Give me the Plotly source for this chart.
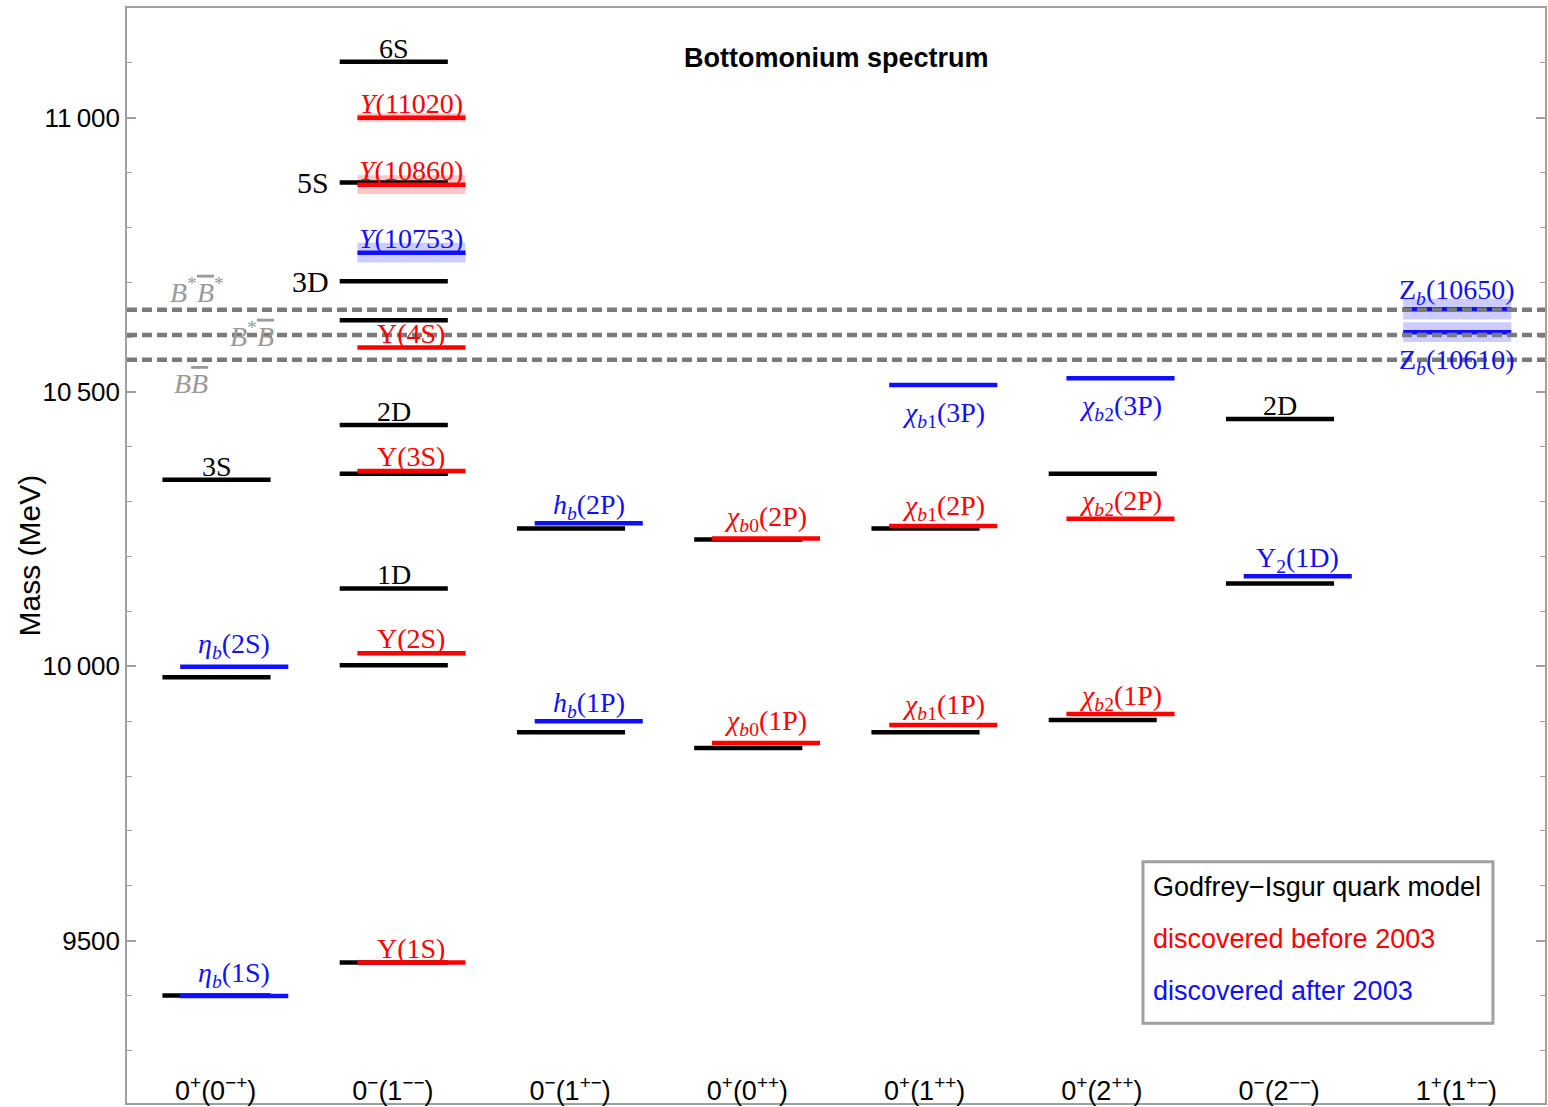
import plotly.graph_objects as go

# ---------------- data ----------------
columns = [
    "0<sup>+</sup>(0<sup>−+</sup>)", "0<sup>−</sup>(1<sup>−−</sup>)", "0<sup>−</sup>(1<sup>+−</sup>)",
    "0<sup>+</sup>(0<sup>++</sup>)", "0<sup>+</sup>(1<sup>++</sup>)", "0<sup>+</sup>(2<sup>++</sup>)",
    "0<sup>−</sup>(2<sup>−−</sup>)", "1<sup>+</sup>(1<sup>+−</sup>)",
]

# Godfrey-Isgur quark model levels
gi_col = [1, 1, 1, 2, 2, 2, 2, 2, 2, 2, 2, 2, 3, 3, 4, 4, 5, 5, 6, 6, 7, 7]
gi_mass = [10340, 9980, 9400, 11102, 10882, 10702, 10631, 10440, 10351, 10142, 10002, 9460,
           10251, 9880, 10231, 9851, 10251, 9880, 10351, 9902, 10451, 10151]
gi_name = ["3S", "", "", "6S", "5S", "3D", "", "2D", "", "1D", "", "",
           "", "", "", "", "", "", "", "", "2D", ""]
gi_place = ["above", "", "", "above", "left", "left", "", "above", "", "above", "", "",
            "", "", "", "", "", "", "", "", "above", ""]

# experimental states
exp_col = [1, 1, 2, 2, 2, 2, 2, 2, 2, 3, 3, 4, 4, 5, 5, 5, 6, 6, 6, 7, 8, 8]
exp_mass = [9999, 9399, 11000, 10878, 10754, 10581, 10356, 10024, 9460, 10261, 9900,
            10233, 9860, 10513, 10256, 9893, 10525, 10269, 9913, 10164, 10651, 10609]
exp_name = [
    "<i>η<sub>b</sub></i>(2S)", "<i>η<sub>b</sub></i>(1S)",
    "<i>Υ</i>(11020)", "<i>Υ</i>(10860)", "<i>Υ</i>(10753)", "Υ(4S)", "Υ(3S)", "Υ(2S)", "Υ(1S)",
    "<i>h<sub>b</sub></i>(2P)", "<i>h<sub>b</sub></i>(1P)",
    "<i>χ<sub>b</sub></i><sub>0</sub>(2P)", "<i>χ<sub>b</sub></i><sub>0</sub>(1P)",
    "<i>χ<sub>b</sub></i><sub>1</sub>(3P)", "<i>χ<sub>b</sub></i><sub>1</sub>(2P)", "<i>χ<sub>b</sub></i><sub>1</sub>(1P)",
    "<i>χ<sub>b</sub></i><sub>2</sub>(3P)", "<i>χ<sub>b</sub></i><sub>2</sub>(2P)", "<i>χ<sub>b</sub></i><sub>2</sub>(1P)",
    "Υ<sub>2</sub>(1D)", "Z<sub><i>b</i></sub>(10650)", "Z<sub><i>b</i></sub>(10610)",
]
exp_era = ["after", "after", "before", "before", "after", "before", "before", "before", "before",
           "after", "after", "before", "before", "after", "before", "before",
           "after", "before", "before", "after", "after", "after"]
exp_halfwidth = [0, 0, 8, 17, 18, 0, 0, 0, 0, 0, 0, 0, 0, 0, 0, 0, 0, 0, 0, 0, 19, 18]
exp_place = ["above", "above", "above", "above", "above", "above", "above", "above", "above",
             "above", "above", "above", "above", "below", "above", "above",
             "below", "above", "above", "above", "above", "below"]
exp_label_lift = [5, 5, 0, 0, 0, 0, 0, 0, 0, 0, 0, 3, 4, 0, 2, 2, 0, 0, 0, 0, 1, 0]

# open-bottom thresholds
thr_mass = [10650, 10604, 10559]
thr_name = [
    "<i>B</i><sup>*</sup><span style='text-decoration:overline'><i>B</i></span><sup>*</sup>",
    "<i>B</i><sup>*</sup><span style='text-decoration:overline'><i>B</i></span>",
    "<i>B</i><span style='text-decoration:overline'><i>B</i></span>",
]
thr_label_x = [0.895, 1.205, 0.861]
thr_place = ["above", "middle", "below"]

legend_text = ["Godfrey−Isgur quark model", "discovered before 2003", "discovered after 2003"]

# ---------------- styles ----------------
BLACK = "#000000"
RED = "#ff0000"
BLUE = "#1010ff"
GRAY = "#7a7a7a"
era_color = {"before": RED, "after": BLUE}
era_band = {"before": "rgba(255,0,0,0.22)", "after": "rgba(0,0,255,0.2)"}
SERIF = "Liberation Serif, Times New Roman, serif"
SANS = "Liberation Sans, Arial, sans-serif"
LW = 4.5

GI_L, GI_R = -0.30, 0.31
EX_L, EX_R = -0.20, 0.41

fig = go.Figure()

gi_cols_set = set(gi_col)


def exp_span(c):
    if c in gi_cols_set:
        return c + EX_L, c + EX_R
    return c + GI_L, c + GI_R


# bands
for c, m, h, era in zip(exp_col, exp_mass, exp_halfwidth, exp_era):
    if h > 0:
        x0, x1 = exp_span(c)
        fig.add_trace(go.Scatter(
            x=[x0, x1, x1, x0, x0], y=[m - h, m - h, m + h, m + h, m - h],
            mode="lines", fill="toself", fillcolor=era_band[era],
            line=dict(width=0), hoverinfo="skip", showlegend=False))

# GI lines
xs, ys = [], []
for c, m in zip(gi_col, gi_mass):
    xs += [c + GI_L, c + GI_R, None]
    ys += [m, m, None]
fig.add_trace(go.Scatter(x=xs, y=ys, mode="lines", line=dict(color=BLACK, width=LW),
                         hoverinfo="skip", showlegend=False))

# experimental lines
for era in ["before", "after"]:
    xs, ys = [], []
    for c, m, e in zip(exp_col, exp_mass, exp_era):
        if e != era:
            continue
        x0, x1 = exp_span(c)
        xs += [x0, x1, None]
        ys += [m, m, None]
    fig.add_trace(go.Scatter(x=xs, y=ys, mode="lines", line=dict(color=era_color[era], width=LW),
                             hoverinfo="skip", showlegend=False))

# thresholds
for m in thr_mass:
    fig.add_trace(go.Scatter(x=[0.5, 8.5], y=[m, m], mode="lines",
                             line=dict(color=GRAY, width=4.5, dash="10px,5px"),
                             hoverinfo="skip", showlegend=False))

annotations = []
LABEL_SIZE = 28

for c, m, name, place in zip(gi_col, gi_mass, gi_name, gi_place):
    if not name:
        continue
    if place == "above":
        annotations.append(dict(x=c + (GI_L + GI_R) / 2, y=m, text=name, xanchor="center",
                                yanchor="bottom", yshift=-4, showarrow=False,
                                font=dict(family=SERIF, size=LABEL_SIZE, color=BLACK)))
    else:
        annotations.append(dict(x=c + GI_L, y=m, text=name, xanchor="right", yanchor="middle",
                                xshift=-9, yshift=0, showarrow=False,
                                font=dict(family=SERIF, size=30, color=BLACK)))

for c, m, name, era, place, lift in zip(exp_col, exp_mass, exp_name, exp_era, exp_place,
                                        exp_label_lift):
    x0, x1 = exp_span(c)
    if place == "above":
        annotations.append(dict(x=(x0 + x1) / 2, y=m, text=name, xanchor="center",
                                yanchor="bottom", yshift=-3 + lift, showarrow=False,
                                font=dict(family=SERIF, size=LABEL_SIZE, color=era_color[era])))
    else:
        annotations.append(dict(x=(x0 + x1) / 2, y=m, text=name, xanchor="center",
                                yanchor="top", yshift=-10, showarrow=False,
                                font=dict(family=SERIF, size=LABEL_SIZE, color=era_color[era])))

for m, name, xl, place in zip(thr_mass, thr_name, thr_label_x, thr_place):
    ya = {"above": "bottom", "middle": "middle", "below": "top"}[place]
    ysh = {"above": 0, "middle": 0, "below": -6}[place]
    annotations.append(dict(x=xl, y=m, text=name, xanchor="center", yanchor=ya, yshift=ysh,
                            showarrow=False,
                            font=dict(family=SERIF, size=LABEL_SIZE, color="#9a9a9a")))

# title and axis title
annotations.append(dict(xref="paper", yref="paper", x=0.5, y=1, yshift=-50, text="<b>Bottomonium spectrum</b>",
                        xanchor="center", yanchor="middle", showarrow=False,
                        font=dict(family=SANS, size=27, color=BLACK)))
annotations.append(dict(xref="paper", yref="paper", x=0, xshift=-98, y=0.5, text="Mass (MeV)",
                        textangle=-90, xanchor="center", yanchor="middle", showarrow=False,
                        font=dict(family=SANS, size=30, color=BLACK)))

# legend box
legend_colors = [BLACK, RED, BLUE]
legend_y = [0.1975, 0.1500, 0.1027]
for t, col, yy in zip(legend_text, legend_colors, legend_y):
    annotations.append(dict(xref="paper", yref="paper", x=0.7222, y=yy, text=t, xanchor="left",
                            yanchor="middle", showarrow=False,
                            font=dict(family=SANS, size=27, color=col)))

fig.add_shape(type="rect", xref="paper", yref="paper", x0=0.7165, x1=0.9633, y0=0.0729, y1=0.2204,
              line=dict(color="#a0a0a0", width=3), fillcolor="white", layer="below")

fig.update_layout(
    width=1548, height=1107,
    margin=dict(l=127, r=3, t=8, b=1),
    paper_bgcolor="white", plot_bgcolor="white",
    annotations=annotations,
    showlegend=False,
    xaxis=dict(range=[0.5, 8.5], tickmode="array", tickvals=list(range(1, 9)), ticktext=columns,
               ticks="", ticklabelposition="inside", showline=True, mirror=True,
               linecolor="#a0a0a0", linewidth=1.5, showgrid=False, zeroline=False,
               tickfont=dict(family=SANS, size=27, color=BLACK), fixedrange=True),
    yaxis=dict(range=[9204, 11200], tickmode="array", tickvals=[9500, 10000, 10500, 11000],
               ticktext=["9500", "10\u2009000", "10\u2009500", "11\u2009000"],
               ticks="inside", ticklen=9, tickwidth=1.5, tickcolor="#a0a0a0",
               minor=dict(tickmode="linear", tick0=9500, dtick=100, ticks="inside", ticklen=5,
                          tickwidth=1.2, tickcolor="#a0a0a0", showgrid=False),
               showline=True, mirror="allticks", linecolor="#a0a0a0", linewidth=1.5,
               showgrid=False, zeroline=False,
               tickfont=dict(family=SANS, size=26, color=BLACK), fixedrange=True),
)

fig.write_html("out.html")
